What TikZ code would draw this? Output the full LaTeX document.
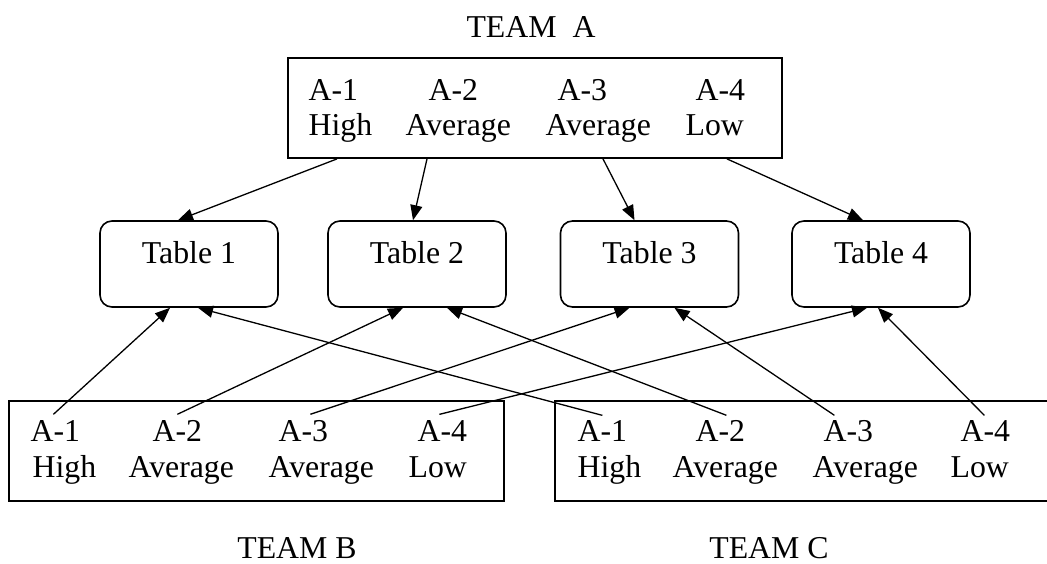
\documentclass[tikz,border=0pt]{standalone}
\usepackage{fontspec}
\setmainfont{Liberation Serif}
\usepackage{tikz}
\usetikzlibrary{arrows.meta}
\tikzstyle{every node}=[inner sep=0pt]
\tikzstyle{tablebox}=[draw,rounded corners=12pt,minimum width=178pt,minimum height=86pt,text height=21.5pt,text depth=23.5pt,line width=1.6pt]
\tikzstyle{teambox}=[draw,rectangle,minimum height=100pt,line width=1.8pt]
\tikzstyle{member}=[anchor=base west]
\tikzstyle{teamname}=[anchor=base]

\begin{document}
\begin{tikzpicture}[->,>={Triangle[length=15pt,width=12pt]},x=1pt,y=-1pt,line width=1.3pt,font=\fontsize{31.8}{36}\selectfont]
	\useasboundingbox (0,0) rectangle (1047,563);
	% the three teams
	\node[teambox,minimum width=494pt] (boxA) at (535,108) {};
	\node[teambox,minimum width=495pt] (boxB) at (256.5,451) {};
	\node[teambox,minimum width=495pt] (boxC) at (802.5,451) {};
	\node[teamname] (nameA) at (531,37) {TEAM\ \ A};
	\node[teamname] (nameB) at (297,558) {TEAM B};
	\node[teamname] (nameC) at (769,558) {TEAM C};
	% members of team A
	\node[member] (a1) at (308,100) {A-1};	\node[member] (a1r) at (308,135) {High};
	\node[member] (a2) at (428,100) {A-2};	\node[member] (a2r) at (405,135) {Average};
	\node[member] (a3) at (557,100) {A-3};	\node[member] (a3r) at (545,135) {Average};
	\node[member] (a4) at (695,100) {A-4};	\node[member] (a4r) at (685,135) {Low};
	% members of team B
	\node[member] (b1) at (30,441) {A-1};	\node[member] (b1r) at (32,477) {High};
	\node[member] (b2) at (152,441) {A-2};	\node[member] (b2r) at (128,477) {Average};
	\node[member] (b3) at (278,441) {A-3};	\node[member] (b3r) at (268,477) {Average};
	\node[member] (b4) at (417,441) {A-4};	\node[member] (b4r) at (408,477) {Low};
	% members of team C
	\node[member] (c1) at (577,441) {A-1};	\node[member] (c1r) at (577,477) {High};
	\node[member] (c2) at (695,441) {A-2};	\node[member] (c2r) at (672,477) {Average};
	\node[member] (c3) at (823,441) {A-3};	\node[member] (c3r) at (812,477) {Average};
	\node[member] (c4) at (960,441) {A-4};	\node[member] (c4r) at (950,477) {Low};
	% tables
	\node[tablebox] (t1) at (189,264) {Table 1};
	\node[tablebox] (t2) at (417,264) {Table 2};
	\node[tablebox] (t3) at (649.5,264) {Table 3};
	\node[tablebox] (t4) at (881,264) {Table 4};
	\path
		([xshift=-198pt]boxA.south)	edge	([xshift=-11pt]t1.north)
		([xshift=-108pt]boxA.south)	edge	([xshift=-4pt]t2.north)
		([xshift=68pt]boxA.south)	edge	([xshift=-15pt]t3.north)
		([xshift=192pt]boxA.south)	edge	([xshift=-18pt]t4.north);
	\path
		([xshift=-2pt,yshift=5pt]b1.north)	edge	([xshift=-19pt]t1.south)
		([yshift=5pt]b2.north)	edge	([xshift=-14pt]t2.south)
		([xshift=7pt,yshift=5pt]b3.north)	edge	([xshift=-20pt]t3.south)
		([xshift=-3pt,yshift=5pt]b4.north)	edge	([xshift=-14pt]t4.south)
		([yshift=4pt]c1.north)	edge	([xshift=9pt]t1.south)
		([xshift=6pt,yshift=4pt]c2.north)	edge	([xshift=30pt]t2.south)
		([xshift=-14pt,yshift=4pt]c3.north)	edge	([xshift=25pt]t3.south)
		([xshift=-1pt,yshift=4pt]c4.north)	edge	([xshift=-3pt]t4.south);
\end{tikzpicture}
\end{document}
